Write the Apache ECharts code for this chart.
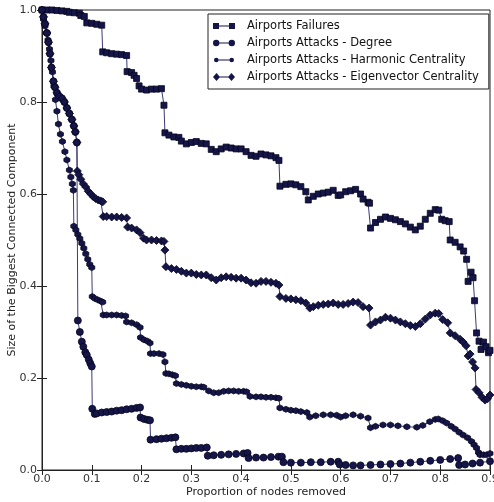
<!DOCTYPE html>
<html>
<head>
<meta charset="utf-8">
<script src="https://cdn.jsdelivr.net/npm/echarts@6/dist/echarts.min.js"></script>
<style>
  html, body { margin: 0; padding: 0; background: #fff; }
  #chart { width: 494px; height: 502px; }
</style>
</head>
<body>
<div id="chart"></div>
<script>
// Share of the network still in the largest connected component, as nodes are removed.
const seriesNames = [
  'Airports Failures',
  'Airports Attacks - Degree',
  'Airports Attacks - Harmonic Centrality',
  'Airports Attacks - Eigenvector Centrality'
];

// [proportion removed, size of biggest component]
const failuresData = [
  [0,1.0],[0.01,1.0],[0.02,1.0],[0.03,0.999],[0.04,0.998],[0.05,0.997],[0.055,0.995],[0.065,0.994],
  [0.075,0.993],[0.078,0.988],[0.085,0.986],[0.09,0.972],[0.1,0.971],[0.11,0.969],[0.12,0.967],
  [0.122,0.909],[0.13,0.907],[0.14,0.905],[0.15,0.904],[0.16,0.903],[0.17,0.901],[0.171,0.866],
  [0.18,0.864],[0.185,0.858],[0.19,0.851],[0.195,0.835],[0.2,0.828],[0.21,0.826],[0.22,0.828],
  [0.23,0.828],[0.24,0.829],[0.245,0.793],[0.247,0.733],[0.255,0.728],[0.265,0.724],[0.275,0.723],
  [0.28,0.715],[0.29,0.709],[0.3,0.712],[0.31,0.714],[0.32,0.71],[0.33,0.709],[0.34,0.697],
  [0.35,0.692],[0.36,0.698],[0.37,0.702],[0.38,0.7],[0.39,0.698],[0.4,0.698],[0.41,0.692],
  [0.42,0.684],[0.43,0.682],[0.44,0.687],[0.45,0.685],[0.46,0.683],[0.47,0.679],[0.476,0.673],
  [0.478,0.617],[0.49,0.621],[0.5,0.622],[0.51,0.62],[0.52,0.616],[0.53,0.605],[0.535,0.587],
  [0.545,0.595],[0.555,0.6],[0.565,0.602],[0.575,0.604],[0.585,0.608],[0.595,0.597],[0.6,0.598],
  [0.61,0.605],[0.62,0.607],[0.63,0.61],[0.64,0.6],[0.645,0.589],[0.655,0.582],[0.658,0.58],
  [0.66,0.526],[0.67,0.538],[0.68,0.545],[0.69,0.55],[0.7,0.547],[0.71,0.544],[0.72,0.54],
  [0.73,0.535],[0.74,0.528],[0.75,0.522],[0.76,0.53],[0.77,0.545],[0.78,0.558],[0.79,0.566],
  [0.797,0.565],[0.803,0.545],[0.81,0.542],[0.818,0.54],[0.82,0.5],[0.83,0.495],[0.84,0.485],
  [0.847,0.476],[0.853,0.458],[0.856,0.41],[0.862,0.43],[0.866,0.418],[0.869,0.368],[0.873,0.298],
  [0.878,0.28],[0.882,0.262],[0.887,0.278],[0.892,0.268],[0.897,0.255],[0.9,0.26]
];

const degreeData = [
  [0,1.0],[0.003,0.985],[0.006,0.97],[0.01,0.95],[0.013,0.93],[0.016,0.905],[0.019,0.875],
  [0.023,0.845],[0.026,0.832],[0.03,0.82],[0.035,0.812],[0.04,0.808],[0.045,0.8],[0.05,0.787],
  [0.055,0.775],[0.06,0.762],[0.064,0.748],[0.067,0.735],[0.07,0.712],[0.072,0.325],[0.076,0.3],
  [0.08,0.279],[0.083,0.268],[0.087,0.256],[0.09,0.25],[0.094,0.24],[0.097,0.232],[0.1,0.225],
  [0.101,0.133],[0.106,0.122],[0.11,0.123],[0.12,0.125],[0.13,0.126],[0.14,0.127],[0.15,0.129],
  [0.16,0.13],[0.17,0.132],[0.18,0.133],[0.19,0.135],[0.197,0.136],[0.198,0.114],[0.205,0.111],
  [0.212,0.109],[0.217,0.108],[0.218,0.066],[0.23,0.067],[0.24,0.068],[0.25,0.069],[0.26,0.07],
  [0.268,0.071],[0.27,0.045],[0.28,0.046],[0.29,0.046],[0.3,0.047],[0.31,0.048],[0.32,0.048],
  [0.331,0.049],[0.333,0.031],[0.345,0.032],[0.36,0.033],[0.375,0.034],[0.39,0.035],[0.405,0.036],
  [0.413,0.037],[0.415,0.026],[0.43,0.027],[0.445,0.027],[0.46,0.028],[0.475,0.029],[0.482,0.029],
  [0.485,0.017],[0.5,0.016],[0.52,0.016],[0.54,0.017],[0.56,0.017],[0.58,0.018],[0.595,0.018],
  [0.598,0.012],[0.61,0.011],[0.625,0.01],[0.64,0.01],[0.66,0.011],[0.68,0.012],[0.7,0.013],
  [0.72,0.014],[0.74,0.016],[0.76,0.018],[0.78,0.02],[0.8,0.022],[0.82,0.024],[0.836,0.026],
  [0.838,0.011],[0.85,0.012],[0.865,0.014],[0.88,0.016],[0.9,0.019]
];

const harmonicData = [
  [0,1.0],[0.003,0.98],[0.006,0.965],[0.009,0.95],[0.012,0.935],[0.015,0.915],[0.018,0.89],
  [0.021,0.865],[0.024,0.835],[0.027,0.805],[0.03,0.78],[0.033,0.752],[0.037,0.73],[0.041,0.714],
  [0.046,0.692],[0.05,0.674],[0.055,0.652],[0.058,0.637],[0.061,0.622],[0.063,0.608],[0.064,0.53],
  [0.068,0.522],[0.072,0.512],[0.076,0.503],[0.08,0.493],[0.084,0.482],[0.088,0.47],[0.092,0.458],
  [0.096,0.447],[0.1,0.44],[0.101,0.377],[0.106,0.373],[0.112,0.37],[0.118,0.367],[0.122,0.365],
  [0.123,0.337],[0.13,0.337],[0.14,0.337],[0.15,0.337],[0.16,0.336],[0.168,0.335],[0.17,0.322],
  [0.18,0.32],[0.19,0.316],[0.197,0.31],[0.198,0.288],[0.205,0.283],[0.212,0.28],[0.217,0.276],
  [0.218,0.253],[0.225,0.253],[0.235,0.253],[0.243,0.251],[0.247,0.235],[0.249,0.21],[0.255,0.209],
  [0.262,0.207],[0.268,0.205],[0.27,0.188],[0.28,0.186],[0.29,0.184],[0.3,0.182],[0.31,0.181],
  [0.32,0.181],[0.325,0.18],[0.335,0.172],[0.345,0.168],[0.355,0.168],[0.365,0.171],[0.375,0.172],
  [0.385,0.172],[0.395,0.171],[0.405,0.171],[0.411,0.17],[0.418,0.16],[0.43,0.159],[0.44,0.159],
  [0.45,0.158],[0.46,0.158],[0.47,0.157],[0.476,0.156],[0.478,0.135],[0.49,0.132],[0.5,0.13],
  [0.51,0.129],[0.52,0.127],[0.532,0.125],[0.538,0.115],[0.55,0.118],[0.565,0.12],[0.58,0.12],
  [0.592,0.119],[0.6,0.115],[0.61,0.118],[0.625,0.12],[0.64,0.117],[0.655,0.113],[0.66,0.092],
  [0.67,0.095],[0.685,0.098],[0.7,0.098],[0.715,0.096],[0.733,0.094],[0.753,0.093],[0.765,0.097],
  [0.779,0.105],[0.79,0.11],[0.796,0.111],[0.805,0.107],[0.813,0.102],[0.822,0.095],[0.83,0.089],
  [0.838,0.082],[0.846,0.076],[0.855,0.07],[0.863,0.062],[0.868,0.055],[0.873,0.048],[0.877,0.038],
  [0.88,0.033],[0.887,0.033],[0.893,0.033],[0.9,0.036]
];

const eigenData = [
  [0,1.0],[0.003,0.985],[0.006,0.97],[0.01,0.95],[0.013,0.93],[0.016,0.905],[0.019,0.875],
  [0.023,0.845],[0.026,0.832],[0.03,0.82],[0.035,0.812],[0.04,0.808],[0.045,0.8],[0.05,0.787],
  [0.055,0.775],[0.06,0.762],[0.064,0.748],[0.067,0.735],[0.07,0.712],[0.071,0.65],[0.074,0.642],
  [0.078,0.632],[0.083,0.622],[0.088,0.615],[0.093,0.606],[0.098,0.6],[0.103,0.594],[0.108,0.59],
  [0.113,0.587],[0.118,0.585],[0.122,0.583],[0.123,0.551],[0.13,0.551],[0.14,0.55],[0.15,0.55],
  [0.16,0.549],[0.17,0.548],[0.172,0.528],[0.18,0.526],[0.19,0.522],[0.197,0.516],[0.204,0.504],
  [0.21,0.5],[0.22,0.5],[0.23,0.499],[0.24,0.498],[0.245,0.497],[0.247,0.478],[0.249,0.442],
  [0.26,0.438],[0.27,0.436],[0.28,0.432],[0.29,0.428],[0.3,0.428],[0.31,0.425],[0.32,0.424],
  [0.33,0.424],[0.34,0.418],[0.35,0.413],[0.36,0.418],[0.37,0.42],[0.38,0.419],[0.39,0.417],
  [0.4,0.417],[0.41,0.413],[0.42,0.407],[0.43,0.406],[0.44,0.41],[0.45,0.41],[0.46,0.408],
  [0.47,0.406],[0.476,0.402],[0.478,0.377],[0.49,0.373],[0.5,0.372],[0.51,0.37],[0.52,0.368],
  [0.53,0.363],[0.538,0.352],[0.545,0.355],[0.555,0.358],[0.565,0.36],[0.575,0.361],[0.585,0.363],
  [0.595,0.36],[0.605,0.36],[0.615,0.362],[0.625,0.365],[0.635,0.364],[0.645,0.355],[0.657,0.352],
  [0.66,0.315],[0.67,0.322],[0.68,0.326],[0.69,0.332],[0.7,0.33],[0.71,0.326],[0.72,0.322],
  [0.73,0.318],[0.74,0.314],[0.75,0.312],[0.76,0.318],[0.77,0.328],[0.78,0.337],[0.79,0.341],
  [0.797,0.34],[0.805,0.327],[0.815,0.32],[0.82,0.298],[0.83,0.292],[0.84,0.284],[0.846,0.278],
  [0.852,0.27],[0.856,0.248],[0.86,0.252],[0.865,0.235],[0.87,0.222],[0.872,0.175],[0.878,0.168],
  [0.884,0.158],[0.89,0.152],[0.895,0.155],[0.9,0.163]
];

const xAxisName = 'Proportion of nodes removed';
const yAxisName = 'Size of the Biggest Connected Component';

const NAVY = '#15154a';
const EDGE = '#06061e';
const LINE = '#3a3a78';
const FONT = 'DejaVu Sans';

const hexagon = 'path://M0,-1L0.866,-0.5L0.866,0.5L0,1L-0.866,0.5L-0.866,-0.5Z';
// Two markers joined by a line; tiny corner specks pin each icon's box to 22x8.
const pin = 'M11,0L11.01,0L11,0.01ZM11,8L11.01,8L11,7.99Z';
const legendIcons = [
  'path://M0,1L6,1L6,7L0,7ZM16,1L22,1L22,7L16,7ZM6,3.6L16,3.6L16,4.4L6,4.4Z' + pin,
  'path://M0,4A3.2,3.2,0,1,1,6.4,4A3.2,3.2,0,1,1,0,4ZM15.6,4A3.2,3.2,0,1,1,22,4A3.2,3.2,0,1,1,15.6,4ZM6,3.6L16,3.6L16,4.4L6,4.4Z' + pin,
  'path://M1,4A2.3,2.3,0,1,1,5.6,4A2.3,2.3,0,1,1,1,4ZM16.4,4A2.3,2.3,0,1,1,21,4A2.3,2.3,0,1,1,16.4,4ZM5,3.6L17,3.6L17,4.4L5,4.4Z' + pin,
  'path://M0,4L3.5,0L7,4L3.5,8ZM15,4L18.5,0L22,4L18.5,8ZM6,3.6L16,3.6L16,4.4L6,4.4Z' + pin
];

function lineSeries(name, data, symbol, size) {
  return {
    name: name,
    type: 'line',
    data: data,
    symbol: symbol,
    symbolSize: size,
    showAllSymbol: true,
    animation: false,
    clip: true,
    lineStyle: { color: LINE, width: 1 },
    itemStyle: { color: NAVY, borderColor: EDGE, borderWidth: 0.8 },
    emphasis: { disabled: true }
  };
}

const tickStyle = { show: true, inside: true, length: 5, lineStyle: { color: '#222', width: 1 } };

const chart = echarts.init(document.getElementById('chart'), null, { renderer: 'canvas' });
chart.setOption({
  backgroundColor: '#ffffff',
  textStyle: { fontFamily: FONT },
  grid: {
    left: 42, right: 4, top: 10, bottom: 32,
    containLabel: false, outerBoundsMode: 'none',
    show: true, borderColor: '#222', borderWidth: 1, backgroundColor: 'transparent'
  },
  legend: {
    orient: 'vertical',
    left: 208, top: 14,
    padding: [6, 10, 6, 5],
    itemWidth: 22, itemHeight: 8, itemGap: 5,
    backgroundColor: '#fff',
    borderColor: '#222', borderWidth: 1, borderRadius: 0,
    selectedMode: false,
    itemStyle: { borderWidth: 0 },
    textStyle: { fontFamily: FONT, fontSize: 11.5, color: '#111', padding: [0, 0, 0, 7] },
    data: seriesNames.map((n, i) => ({ name: n, icon: legendIcons[i] }))
  },
  xAxis: [{
    type: 'value', min: 0, max: 0.9, interval: 0.1,
    name: xAxisName, nameLocation: 'middle', nameGap: 17, nameMoveOverlap: false,
    nameTextStyle: { fontFamily: FONT, fontSize: 11, color: '#222' },
    axisLine: { show: true, lineStyle: { color: '#222' } },
    axisTick: tickStyle,
    splitLine: { show: false },
    axisLabel: { fontFamily: FONT, fontSize: 11, color: '#333', margin: 4, formatter: v => v.toFixed(1) }
  }, {
    type: 'value', position: 'top', min: 0, max: 0.9, interval: 0.1,
    axisLine: { show: false }, axisTick: tickStyle, axisLabel: { show: false }, splitLine: { show: false }
  }],
  yAxis: [{
    type: 'value', min: 0, max: 1, interval: 0.2,
    name: yAxisName, nameLocation: 'middle', nameGap: 24, nameMoveOverlap: false,
    nameTextStyle: { fontFamily: FONT, fontSize: 11, color: '#222' },
    axisLine: { show: true, lineStyle: { color: '#222' } },
    axisTick: tickStyle,
    splitLine: { show: false },
    axisLabel: { fontFamily: FONT, fontSize: 11, color: '#333', margin: 5, formatter: v => v.toFixed(1) }
  }, {
    type: 'value', position: 'right', min: 0, max: 1, interval: 0.2,
    axisLine: { show: false }, axisTick: tickStyle, axisLabel: { show: false }, splitLine: { show: false }
  }],
  series: [
    lineSeries(seriesNames[0], failuresData, 'rect', 6),
    lineSeries(seriesNames[1], degreeData, 'circle', 7),
    lineSeries(seriesNames[2], harmonicData, hexagon, 6),
    lineSeries(seriesNames[3], eigenData, 'diamond', 8)
  ]
});
</script>
</body>
</html>
